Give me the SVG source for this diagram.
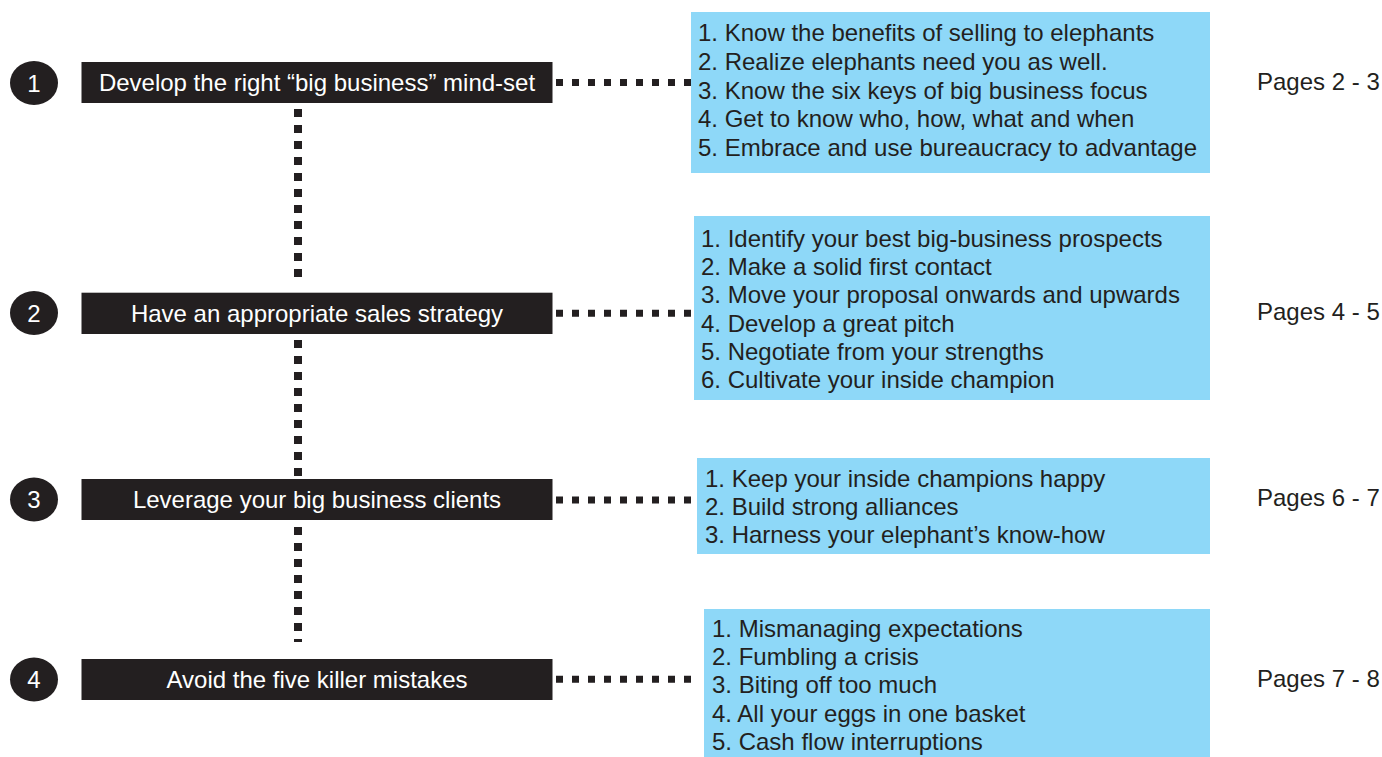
<svg xmlns="http://www.w3.org/2000/svg" width="1382" height="757" viewBox="0 0 1382 757">
  <style>
    text { font-family: "Liberation Sans", Arial, Helvetica, sans-serif; font-size: 24px; }
    .badge { fill: #231f20; }
    .badge-num { fill: #ffffff; text-anchor: middle; }
    .step { fill: #231f20; }
    .step-label { fill: #ffffff; text-anchor: middle; }
    .detail { fill: #8ed8f8; }
    .item { fill: #231f20; }
    .pages { fill: #231f20; }
    .dots-h { stroke: #231f20; stroke-width: 7; stroke-dasharray: 7 9; fill: none; }
    .dots-v { stroke: #231f20; stroke-width: 8; stroke-dasharray: 8 8; fill: none; }
  </style>

  <rect width="1382" height="757" fill="#ffffff"/>

  <!-- dotted links between steps and to their detail boxes -->
  <g id="connectors">
    <line class="dots-v" x1="298" y1="109" x2="298" y2="277"/>
    <line class="dots-v" x1="298" y1="340" x2="298" y2="476"/>
    <line class="dots-v" x1="298" y1="527" x2="298" y2="642"/>
    <line class="dots-h" x1="556" y1="82.5" x2="691" y2="82.5"/>
    <line class="dots-h" x1="556" y1="313.3" x2="691" y2="313.3"/>
    <line class="dots-h" x1="556" y1="500" x2="691" y2="500"/>
    <line class="dots-h" x1="556" y1="679.3" x2="691" y2="679.3"/>
  </g>

  <!-- step 1 -->
  <g id="step-1">
    <ellipse class="badge" cx="34" cy="83" rx="24" ry="22"/>
    <text class="badge-num" x="34" y="91.5">1</text>
    <rect class="step" x="81.5" y="62" width="471" height="41"/>
    <text class="step-label" x="317" y="91">Develop the right “big business” mind-set</text>
  </g>
  <g id="details-1">
    <rect class="detail" x="691" y="12" width="519" height="161"/>
    <text class="item" x="698" y="41">1. Know the benefits of selling to elephants</text>
    <text class="item" x="698" y="69.8">2. Realize elephants need you as well.</text>
    <text class="item" x="698" y="98.5">3. Know the six keys of big business focus</text>
    <text class="item" x="698" y="127.3">4. Get to know who, how, what and when</text>
    <text class="item" x="698" y="156">5. Embrace and use bureaucracy to advantage</text>
  </g>
  <g id="pages-1">
    <text class="pages" x="1257" y="89.5">Pages 2 - 3</text>
  </g>

  <!-- step 2 -->
  <g id="step-2">
    <ellipse class="badge" cx="34" cy="313" rx="24" ry="22"/>
    <text class="badge-num" x="34" y="321.5">2</text>
    <rect class="step" x="81.5" y="292.7" width="471" height="41.3"/>
    <text class="step-label" x="317" y="321.5">Have an appropriate sales strategy</text>
  </g>
  <g id="details-2">
    <rect class="detail" x="694" y="216" width="516" height="184"/>
    <text class="item" x="701" y="246.7">1. Identify your best big-business prospects</text>
    <text class="item" x="701" y="275">2. Make a solid first contact</text>
    <text class="item" x="701" y="303.3">3. Move your proposal onwards and upwards</text>
    <text class="item" x="701" y="331.7">4. Develop a great pitch</text>
    <text class="item" x="701" y="360">5. Negotiate from your strengths</text>
    <text class="item" x="701" y="388.3">6. Cultivate your inside champion</text>
  </g>
  <g id="pages-2">
    <text class="pages" x="1257" y="319.5">Pages 4 - 5</text>
  </g>

  <!-- step 3 -->
  <g id="step-3">
    <ellipse class="badge" cx="34" cy="499.5" rx="24" ry="22"/>
    <text class="badge-num" x="34" y="508">3</text>
    <rect class="step" x="81.5" y="479" width="471" height="41"/>
    <text class="step-label" x="317" y="508">Leverage your big business clients</text>
  </g>
  <g id="details-3">
    <rect class="detail" x="697" y="458" width="513" height="96"/>
    <text class="item" x="705" y="486.7">1. Keep your inside champions happy</text>
    <text class="item" x="705" y="515">2. Build strong alliances</text>
    <text class="item" x="705" y="543.3">3. Harness your elephant’s know-how</text>
  </g>
  <g id="pages-3">
    <text class="pages" x="1257" y="505.5">Pages 6 - 7</text>
  </g>

  <!-- step 4 -->
  <g id="step-4">
    <ellipse class="badge" cx="34" cy="679.5" rx="24" ry="22"/>
    <text class="badge-num" x="34" y="688">4</text>
    <rect class="step" x="81.5" y="659" width="471" height="41"/>
    <text class="step-label" x="317" y="688">Avoid the five killer mistakes</text>
  </g>
  <g id="details-4">
    <rect class="detail" x="704" y="609" width="506" height="148"/>
    <text class="item" x="712" y="636.7">1. Mismanaging expectations</text>
    <text class="item" x="712" y="664.7">2. Fumbling a crisis</text>
    <text class="item" x="712" y="693">3. Biting off too much</text>
    <text class="item" x="712" y="721.7">4. All your eggs in one basket</text>
    <text class="item" x="712" y="750">5. Cash flow interruptions</text>
  </g>
  <g id="pages-4">
    <text class="pages" x="1257" y="686.5">Pages 7 - 8</text>
  </g>
</svg>
